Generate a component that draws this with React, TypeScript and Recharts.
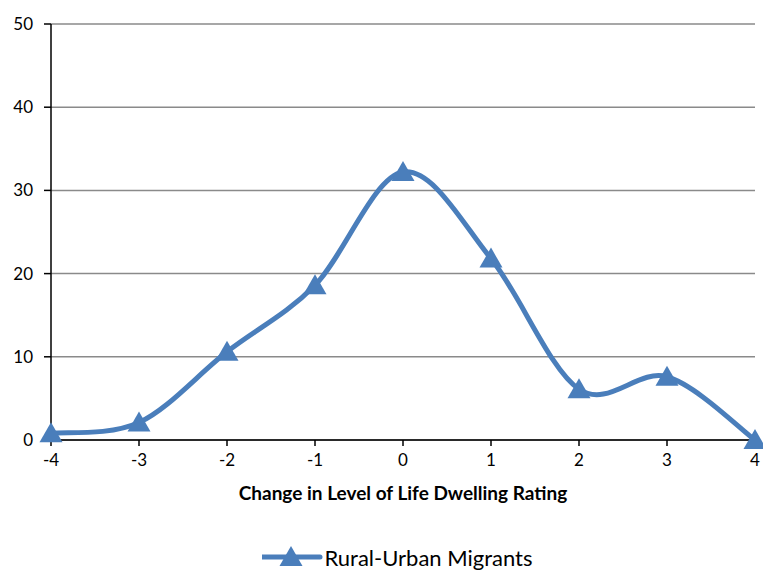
import React from 'react';
import { LineChart, Line, XAxis, YAxis, CartesianGrid, Legend } from 'recharts';

const ratingChanges = [-4, -3, -2, -1, 0, 1, 2, 3, 4];
const migrantShares = [0.8, 2.1, 10.6, 18.6, 32.2, 21.8, 6.1, 7.6, 0];
const yTicks = [0, 10, 20, 30, 40, 50];
const seriesName = 'Rural-Urban Migrants';
const axisTitle = 'Change in Level of Life Dwelling Rating';

const data = ratingChanges.map((x, i) => ({ x, value: migrantShares[i] }));

const BLUE = '#4A7EBB';
const FONT = 'Lato, "Open Sans", sans-serif';

// Smoothed line through every point (Catmull-Rom style bezier segments)
const smoothCurve = (context: any) => {
  let pts: number[][] = [];
  return {
    areaStart() {},
    areaEnd() {},
    lineStart() {
      pts = [];
    },
    point(x: number, y: number) {
      pts.push([+x, +y]);
    },
    lineEnd() {
      if (!pts.length) return;
      context.moveTo(pts[0][0], pts[0][1]);
      for (let i = 0; i < pts.length - 1; i++) {
        const p0 = pts[Math.max(i - 1, 0)];
        const p1 = pts[i];
        const p2 = pts[i + 1];
        const p3 = pts[Math.min(i + 2, pts.length - 1)];
        context.bezierCurveTo(
          p1[0] + (p2[0] - p0[0]) / 6,
          p1[1] + (p2[1] - p0[1]) / 6,
          p2[0] - (p3[0] - p1[0]) / 6,
          p2[1] - (p3[1] - p1[1]) / 6,
          p2[0],
          p2[1]
        );
      }
    },
  };
};

const Triangle = (props: any) => {
  const { cx, cy } = props;
  if (cx == null || cy == null) return null;
  return (
    <polygon
      points={`${cx},${cy - 11} ${cx - 11.5},${cy + 9} ${cx + 11.5},${cy + 9}`}
      fill={BLUE}
    />
  );
};

const AxisTitle = (props: any) => {
  const { viewBox } = props;
  return (
    <text
      x={viewBox.x + viewBox.width / 2}
      y={viewBox.y + 60}
      textAnchor="middle"
      fontWeight="bold"
      fontSize={19}
      fill="#000"
      fontFamily={FONT}
    >
      {axisTitle}
    </text>
  );
};

const LegendContent = () => (
  <div style={{ height: 30, display: 'flex', alignItems: 'center', justifyContent: 'center', paddingLeft: 40 }}>
    <svg width={62} height={24}>
      <line x1={0} y1={12} x2={58} y2={12} stroke={BLUE} strokeWidth={5} strokeLinecap="round" />
      <polygon points="29,1 17.5,21 40.5,21" fill={BLUE} />
    </svg>
    <span style={{ fontSize: 22, fontFamily: FONT, color: '#000' }}>{seriesName}</span>
  </div>
);

export default function App() {
  return (
    <div style={{ position: 'absolute', left: 0, top: 0, background: '#fff', fontFamily: FONT }}>
      <LineChart width={763} height={572} data={data} margin={{ top: 24, right: 8, left: 0, bottom: 0 }}>
        <CartesianGrid vertical={false} stroke="#8a8a8a" strokeWidth={1.5} />
        <XAxis
          type="number"
          dataKey="x"
          domain={[-4, 4]}
          ticks={ratingChanges}
          height={102}
          tickSize={6}
          tickMargin={8}
          axisLine={{ stroke: '#000', strokeWidth: 1.5 }}
          tickLine={{ stroke: '#000', strokeWidth: 1.5 }}
          tick={{ fill: '#000', fontSize: 17, fontFamily: FONT }}
          label={<AxisTitle />}
        />
        <YAxis
          domain={[0, 50]}
          ticks={yTicks}
          width={51}
          tickSize={7}
          tickMargin={11}
          axisLine={{ stroke: '#000', strokeWidth: 1.5 }}
          tickLine={{ stroke: '#000', strokeWidth: 1.5 }}
          tick={{ fill: '#000', fontSize: 17, fontFamily: FONT }}
        />
        <Legend verticalAlign="bottom" height={30} content={<LegendContent />} />
        <Line
          dataKey="value"
          name={seriesName}
          type={smoothCurve as any}
          stroke={BLUE}
          strokeWidth={5}
          dot={<Triangle />}
          activeDot={false}
          isAnimationActive={false}
        />
      </LineChart>
    </div>
  );
}
